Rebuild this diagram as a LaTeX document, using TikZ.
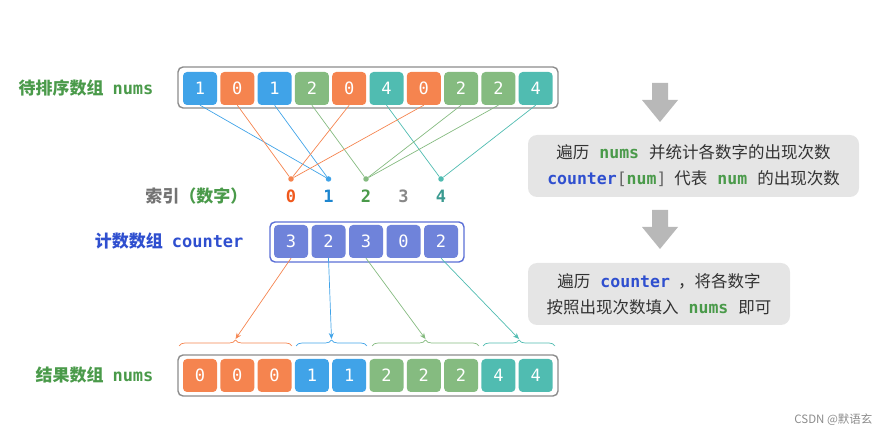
\documentclass[tikz,border=0pt]{standalone}
\usepackage{fontspec}
\setmainfont{Noto Sans CJK SC}
\setmonofont{DejaVu Sans Mono}
\usetikzlibrary{arrows.meta,decorations.pathreplacing}

\definecolor{val0}{HTML}{F5844F}
\definecolor{val1}{HTML}{40A3E8}
\definecolor{val2}{HTML}{85BB80}
\definecolor{val4}{HTML}{50BCB1}
\definecolor{cntfill}{HTML}{6F83DA}
\definecolor{cntdraw}{HTML}{5B6FD6}
\definecolor{codegreen}{HTML}{4A9A4A}
\definecolor{codeblue}{HTML}{2F4FCF}
\definecolor{idx0}{HTML}{F0581C}
\definecolor{idx1}{HTML}{1E86CF}
\definecolor{idx2}{HTML}{4A9A4A}
\definecolor{idx3}{HTML}{888888}
\definecolor{idx4}{HTML}{3A9A90}

\newcommand{\cgreen}[1]{\textcolor{codegreen}{\texttt{\bfseries #1}}}
\newcommand{\cblue}[1]{\textcolor{codeblue}{\texttt{\bfseries #1}}}

\tikzset{
	cell/.style = {fill = #1, rounded corners = 4pt, minimum width = 34pt, minimum height = 33pt,
		inner sep = 0pt, text = white, font = \fontsize{17}{17}\selectfont\ttfamily},
	frame/.style = {draw = #1, line width = 1.4pt, rounded corners = 5pt},
	title/.style = {anchor = east, font = \fontsize{17}{20}\selectfont\bfseries},
	step box/.style = {fill = black!10, rounded corners = 9pt, align = center, text = black!80,
		font = \fontsize{16.5}{26}\selectfont, inner sep = 0pt},
	link/.style = {line width = 0.7pt, #1},
	fill arrow/.style = {fill = black!28, draw = none}
}

\begin{document}
\begin{tikzpicture}[x = 1pt, y = -1pt]
				%	canvas
				\useasboundingbox (0, 0) rectangle (887, 438);
				
				\def\pitch{37.3}
				\def\cpitch{37.5}
				
				%	input array
				\draw[frame = black!45] (178, 67) rectangle (558, 108);
				\foreach \v [count = \i from 0] in {1, 0, 1, 2, 0, 4, 0, 2, 2, 4}
					\node[cell = val\v] (t\i) at (200 + \i*\pitch, 88.5) {\v};
				\node[title, text = codegreen] (lbltop) at (157, 88) {待排序数组\hspace{9pt}\texttt{nums}};
				
				%	index dots
				\foreach \k/\c in {0/val0, 1/val1, 2/val2, 4/val4}
					\node[circle, fill = \c, inner sep = 0pt, minimum size = 5.5pt] (d\k) at (291 + \k*\cpitch, 179) {};
				\foreach \k in {0, ..., 4}
					\node[text = idx\k, font = \fontsize{17}{17}\selectfont\ttfamily\bfseries] (i\k) at (291 + \k*\cpitch, 196) {\k};
				\node[title, text = black!55] (lblidx) at (251, 196) {索引\textcolor{codegreen}{（数字）}};
				
				%	input -> index
				\foreach \v [count = \i from 0] in {1, 0, 1, 2, 0, 4, 0, 2, 2, 4}
					\draw[link = val\v] (t\i.south) -- (d\v);
				
				%	counter array
				\draw[frame = cntdraw] (270, 222) rectangle (464, 262);
				\foreach \v [count = \j from 0] in {3, 2, 3, 0, 2}
					\node[cell = cntfill] (c\j) at (291 + \j*\cpitch, 241.5) {\v};
				\node[title, text = codeblue] (lblcnt) at (247, 241) {计数数组\hspace{9pt}\texttt{counter}};
				
				%	result array
				\draw[frame = black!45] (178, 355) rectangle (558, 396);
				\foreach \v [count = \i from 0] in {0, 0, 0, 1, 1, 2, 2, 2, 4, 4}
					\node[cell = val\v] (r\i) at (200 + \i*\pitch, 375.5) {\v};
				\node[title, text = codegreen] (lblres) at (157, 375) {结果数组\hspace{9pt}\texttt{nums}};
				
				%	braces
				\foreach \a/\b/\c [count = \n from 0] in {179/292/val0, 296/367/val1, 372/479/val2, 483/555/val4} {
					\draw[link = \c, decorate, decoration = {brace, amplitude = 6pt}] (\a, 346) -- (\b, 346);
					\coordinate (b\n) at ({(\a + \b)/2}, 339);
				}
				
				%	counter -> result
				\draw[link = val0, -{Stealth[length = 6pt, width = 5pt]}] (c0.south) -- (b0);
				\draw[link = val1, -{Stealth[length = 6pt, width = 5pt]}] (c1.south) -- (b1);
				\draw[link = val2, -{Stealth[length = 6pt, width = 5pt]}] (c2.south) -- (b2);
				\draw[link = val4, -{Stealth[length = 6pt, width = 5pt]}] (c4.south) -- (b3);
				
				%	steps
				\fill[fill arrow] (652, 83) -- (668, 83) -- (668, 100) -- (678, 100) -- (660, 122) -- (642, 100) -- (652, 100) -- cycle;
				\node[step box, minimum width = 331pt, minimum height = 62pt] (step1) at (693.5, 166)
					{遍历\hspace{10pt}\cgreen{nums}\hspace{10pt}并统计各数字的出现次数\\
					\cblue{counter}\textcolor{black!60}{\texttt{[}}\cgreen{num}\textcolor{black!60}{\texttt{]}}\hspace{8pt}代表\hspace{10pt}\cgreen{num}\hspace{10pt}的出现次数};
				\fill[fill arrow] (652, 210) -- (668, 210) -- (668, 227) -- (678, 227) -- (660, 249) -- (642, 227) -- (652, 227) -- cycle;
				\node[step box, minimum width = 262pt, minimum height = 62pt] (step2) at (659, 294)
					{遍历\hspace{10pt}\cblue{counter}\hspace{8pt}，将各数字\\
					按照出现次数填入\hspace{10pt}\cgreen{nums}\hspace{10pt}即可};
				
				%	watermark
				\node[anchor = east, text = black!45, font = \fontsize{11.5}{11.5}\selectfont] (mark) at (876, 420) {CSDN @默语玄};
\end{tikzpicture}
\end{document}
